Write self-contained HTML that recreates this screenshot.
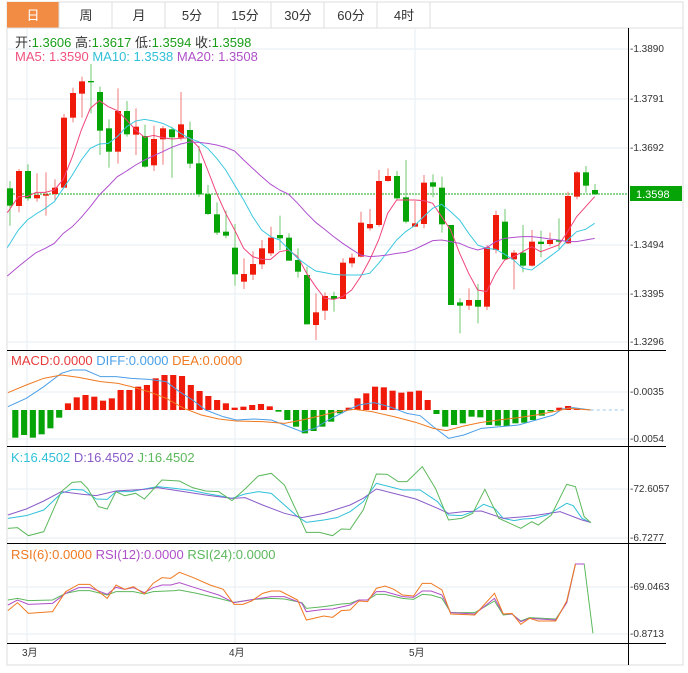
<!DOCTYPE html>
<html><head><meta charset="utf-8"><style>
body{margin:0;background:#fff;width:688px;height:673px;overflow:hidden;font-family:"Liberation Sans","Noto Sans CJK SC",sans-serif}
svg{position:absolute;left:0;top:0}
</style></head><body>
<svg width="688" height="673" xmlns="http://www.w3.org/2000/svg" font-family="Liberation Sans, Noto Sans CJK SC, sans-serif">
<rect x="7" y="2" width="676" height="26" fill="#fff" stroke="#dcdcdc"/>
<rect x="7" y="2" width="52" height="26" fill="#f28c45"/>
<g stroke="#dcdcdc"><line x1="59" y1="2" x2="59" y2="28"/><line x1="112" y1="2" x2="112" y2="28"/><line x1="165" y1="2" x2="165" y2="28"/><line x1="218" y1="2" x2="218" y2="28"/><line x1="271" y1="2" x2="271" y2="28"/><line x1="324" y1="2" x2="324" y2="28"/><line x1="377" y1="2" x2="377" y2="28"/><line x1="430" y1="2" x2="430" y2="28"/></g>
<g font-size="13" text-anchor="middle" fill="#333"><text x="33" y="20" fill="#fff">日</text><text x="86" y="20">周</text><text x="139" y="20">月</text><text x="192" y="20">5分</text><text x="245" y="20">15分</text><text x="298" y="20">30分</text><text x="351" y="20">60分</text><text x="404" y="20">4时</text></g>
<rect x="7" y="28" width="676" height="637" fill="none" stroke="#dcdcdc"/>
<g stroke="#e6edf2" stroke-width="1">
<line x1="7" y1="49" x2="628" y2="49"/><line x1="7" y1="99" x2="628" y2="99"/><line x1="7" y1="148" x2="628" y2="148"/><line x1="7" y1="245" x2="628" y2="245"/><line x1="7" y1="294" x2="628" y2="294"/><line x1="7" y1="342" x2="628" y2="342"/>
<line x1="7" y1="392" x2="628" y2="392"/><line x1="7" y1="439" x2="628" y2="439"/>
<line x1="7" y1="489" x2="628" y2="489"/><line x1="7" y1="538" x2="628" y2="538"/>
<line x1="7" y1="587" x2="628" y2="587"/><line x1="7" y1="634" x2="628" y2="634"/>
<line x1="27" y1="28" x2="27" y2="643"/><line x1="235" y1="28" x2="235" y2="643"/><line x1="415" y1="28" x2="415" y2="643"/>
</g>
<g stroke="#000" stroke-width="1">
<line x1="7" y1="350.5" x2="666" y2="350.5"/><line x1="7" y1="446.5" x2="666" y2="446.5"/><line x1="7" y1="543.5" x2="666" y2="543.5"/><line x1="7" y1="643.5" x2="666" y2="643.5"/>
<line x1="628.5" y1="28" x2="628.5" y2="665"/>
</g>
<g font-size="10" fill="#333">
<text x="630" y="52">-1.3890</text><text x="630" y="102">-1.3791</text><text x="630" y="151">-1.3692</text><text x="630" y="248">-1.3494</text><text x="630" y="297">-1.3395</text><text x="630" y="345">-1.3296</text>
<text x="630" y="395">-0.0035</text><text x="630" y="442">-0.0054</text>
<text x="630" y="492">-72.6057</text><text x="630" y="541">-6.7277</text>
<text x="630" y="590">-69.0463</text><text x="630" y="637">-0.8713</text>
<text x="22" y="656">3月</text><text x="229" y="656">4月</text><text x="409" y="656">5月</text>
</g>
<line x1="7" y1="194" x2="628" y2="194" stroke="#1aa81a" stroke-dasharray="2,1"/>
<rect x="630" y="186" width="52" height="15" fill="#06a406"/>
<text x="636" y="198" font-size="11" fill="#fff">1.3598</text>
<text x="15" y="47" font-size="13" fill="#333">开:<tspan fill="#1a9e1a">1.3606</tspan>  高:<tspan fill="#1a9e1a">1.3617</tspan>  低:<tspan fill="#1a9e1a">1.3594</tspan>  收:<tspan fill="#1a9e1a">1.3598</tspan></text>
<text x="15" y="61" font-size="13"><tspan fill="#f0527e">MA5: 1.3590</tspan>  <tspan fill="#30c0d8">MA10: 1.3538</tspan>  <tspan fill="#b050c8">MA20: 1.3508</tspan></text>
<text x="11" y="365" font-size="13"><tspan fill="#e83a3a">MACD:0.0000</tspan>  <tspan fill="#4aa0e8">DIFF:0.0000</tspan>  <tspan fill="#f07a22">DEA:0.0000</tspan></text>
<text x="11" y="462" font-size="13"><tspan fill="#30c0d8">K:16.4502</tspan>  <tspan fill="#8a5cc8">D:16.4502</tspan>  <tspan fill="#5cb85c">J:16.4502</tspan></text>
<text x="11" y="559" font-size="13"><tspan fill="#f07a22">RSI(6):0.0000</tspan>  <tspan fill="#b050c8">RSI(12):0.0000</tspan>  <tspan fill="#5cb85c">RSI(24):0.0000</tspan></text>
<g id="main" transform="translate(0,60) scale(0.33333)"></g>
<g id="low" transform="translate(0,345) scale(0.4376,0.33333)"></g>
<g id="rsi" transform="translate(0,540) scale(0.4376,0.33333)"></g>
</svg>
<script>
var NS="http://www.w3.org/2000/svg";
function el(p,t,a){var e=document.createElementNS(NS,t);for(var k in a)e.setAttribute(k,a[k]);p.appendChild(e);return e;}
var main=document.getElementById('main'),low=document.getElementById('low'),rsi=document.getElementById('rsi');
var C=[["G",385,437,363,497],["R",333,438,327,457],["G",333,415,313,422],["R",405,415,340,425],["R",403,407,337,467],["R",383,402,358,420],["R",173,383,162,383],["R",99,173,83,187],["R",64,101,50,173],["G",63,67,12,160],["G",96,212,80,285],["G",205,275,178,323],["R",153,275,85,311],["G",153,223,123,230],["R",200,224,145,285],["G",228,320,194,323],["R",237,316,197,333],["R",205,238,198,314],["G",208,232,200,353],["R",193,233,96,242],["G",210,311,185,325],["G",310,403,258,410],["G",403,462,375,465],["G",463,518,427,525],["G",515,527,452,535],["G",563,643,492,677],["R",642,665,595,687],["R",612,644,574,660],["R",565,613,540,627],["R",533,580,500,588],["G",525,535,467,570],["G",533,602,520,602],["G",600,635,565,653],["G",645,793,620,793],["R",757,795,700,840],["R",708,752,697,780],["G",708,717,695,755],["R",608,717,595,717],["R",593,610,580,622],["R",488,590,455,592],["R",492,505,447,512],["R",363,495,330,500],["R",348,363,325,365],["G",348,415,333,420],["G",412,485,300,490],["R",490,500,423,500],["R",368,492,345,505],["G",367,380,343,412],["G",383,493,350,518],["G",495,735,495,735],["G",727,737,715,820],["R",720,737,685,750],["G",720,740,672,790],["R",562,740,555,750],["R",465,570,452,580],["G",485,598,447,600],["R",578,598,570,688],["G",578,617,495,637],["R",545,617,510,620],["G",545,552,512,592],["R",540,552,518,558],["G",540,545,475,568],["R",408,550,395,552],["R",337,410,333,418],["G",337,377,318,398],["G",390,403,372,405]];
var RED="#f01a0a",GRN="#06a406",WR="#f07a7a",WG="#6cc86c";
C.forEach(function(c,i){var x=30+i*27;var col=c[0]=="R"?RED:GRN;
el(main,"line",{x1:x,x2:x,y1:c[3],y2:c[4],stroke:c[0]=="R"?WR:WG,"stroke-width":3});
el(main,"rect",{x:x-9,y:c[1],width:18,height:Math.max(c[2]-c[1],4),fill:col});});
function pl(g,pts,col,w){el(g,"polyline",{points:pts.map(function(p){return p.join(",")}).join(" "),fill:"none",stroke:col,"stroke-width":w||1,"vector-effect":"non-scaling-stroke"});}
pl(main,[[22,458],[55,410],[82,410],[108,397],[136,397],[163,390],[190,358],[217,290],[244,210],[271,145],[298,122],[325,140],[352,152],[380,180],[407,210],[434,232],[461,226],[488,233],[515,237],[542,235],[568,233],[596,262],[623,330],[650,400],[677,460],[704,510],[731,565],[758,590],[785,598],[812,598],[839,575],[866,570],[893,590],[920,640],[947,680],[974,715],[1001,718],[1028,710],[1055,690],[1082,650],[1109,600],[1136,540],[1163,460],[1190,420],[1217,420],[1244,420],[1271,422],[1298,430],[1325,470],[1352,510],[1379,580],[1406,640],[1433,690],[1460,695],[1487,640],[1514,600],[1541,590],[1568,575],[1595,560],[1622,575],[1649,565],[1676,555],[1703,515],[1730,470],[1757,440],[1784,410]],"#f0447a");
pl(main,[[22,563],[55,510],[82,480],[108,462],[136,445],[163,425],[190,385],[217,345],[244,300],[271,265],[298,252],[325,250],[352,230],[380,200],[407,183],[434,178],[461,183],[488,190],[515,203],[542,220],[568,235],[596,245],[623,265],[650,295],[677,330],[704,375],[731,420],[758,470],[785,510],[812,530],[839,540],[866,568],[893,595],[920,615],[947,633],[974,638],[1001,643],[1028,645],[1082,645],[1109,640],[1136,610],[1163,575],[1190,540],[1217,515],[1244,497],[1271,470],[1298,445],[1325,433],[1352,455],[1379,480],[1406,520],[1433,555],[1460,565],[1487,568],[1514,583],[1541,600],[1568,625],[1595,630],[1622,610],[1649,590],[1676,570],[1703,540],[1730,515],[1757,508],[1784,490]],"#3cc8e0");
pl(main,[[22,648],[55,620],[82,598],[108,578],[136,565],[163,550],[190,520],[217,500],[244,472],[271,440],[298,405],[325,378],[352,350],[380,333],[407,315],[434,300],[461,287],[488,275],[515,262],[542,252],[568,246],[596,247],[623,250],[650,255],[677,262],[704,273],[731,300],[758,325],[785,350],[812,373],[839,390],[866,403],[893,430],[920,460],[947,487],[974,508],[1001,530],[1028,550],[1055,568],[1082,585],[1109,590],[1136,588],[1163,585],[1190,580],[1217,577],[1244,568],[1271,555],[1298,542],[1325,540],[1352,545],[1379,550],[1406,562],[1433,570],[1460,563],[1487,545],[1514,535],[1541,532],[1568,530],[1595,530],[1622,533],[1649,537],[1676,540],[1703,545],[1730,545],[1757,540],[1784,535]],"#b04fcf");
var M=[278,270,278,268,250,218,175,157,150,155,167,160,135,135,125,120,100,90,90,93,120,138,153,165,175,188,185,180,177,184,200,225,245,265,258,245,230,205,188,160,145,125,127,137,143,140,137,165,207,245,240,235,215,217,240,242,243,235,233,225,212,199,188,183,190,193];
M.forEach(function(v,i){var x=35+i*20.05;var y1=Math.min(v,195),h=Math.abs(v-195);
el(low,"rect",{x:x-7,y:y1,width:14,height:Math.max(h,2),fill:v>195?GRN:RED});});
el(low,"line",{x1:1350,x2:1425,y1:195,y2:195,stroke:"#9cc8e8","stroke-dasharray":"3,3","vector-effect":"non-scaling-stroke"});
pl(low,[[18,185],[60,160],[100,125],[140,85],[165,75],[195,75],[230,95],[265,95],[300,100],[340,103],[380,110],[410,140],[440,165],[470,195],[510,215],[540,225],[580,222],[620,225],[650,240],[690,260],[720,250],[750,225],[790,198],[820,180],[855,173],[890,185],[930,205],[960,212],[990,245],[1025,280],[1060,270],[1100,250],[1145,245],[1185,240],[1225,225],[1265,210],[1285,192],[1310,188],[1350,195]],"#4a9ee8");
pl(low,[[18,143],[60,120],[100,100],[140,90],[180,97],[230,110],[270,115],[300,125],[340,140],[380,160],[420,190],[460,210],[500,222],[540,228],[600,230],[650,235],[690,225],[730,213],[770,200],[810,193],[850,200],[900,215],[950,232],[990,250],[1020,257],[1060,243],[1100,232],[1140,225],[1185,218],[1225,210],[1265,200],[1300,190],[1350,195]],"#f07a22");
pl(low,[[18,520],[60,512],[100,495],[140,445],[165,433],[190,435],[220,462],[245,463],[265,440],[300,440],[330,432],[360,425],[400,430],[440,437],[470,445],[500,452],[530,460],[560,447],[590,440],[620,445],[650,480],[680,515],[700,532],[740,525],[770,518],[800,500],[830,470],[860,415],[890,425],[920,435],[960,435],[1000,470],[1025,510],[1055,512],[1080,500],[1105,478],[1130,490],[1150,520],[1175,527],[1195,522],[1220,520],[1250,510],[1270,495],[1295,475],[1310,482],[1330,520],[1350,533]],"#30c0d8");
pl(low,[[18,510],[60,492],[100,468],[140,440],[190,448],[220,452],[265,438],[330,433],[360,428],[420,440],[470,450],[530,460],[560,458],[600,480],[650,505],[690,518],[740,505],[800,480],[830,460],[860,432],[900,445],[950,462],[1000,490],[1025,505],[1060,500],[1100,498],[1150,520],[1200,515],[1230,510],[1280,500],[1330,525],[1350,532]],"#8a5cc8");
pl(low,[[18,550],[40,548],[65,572],[100,560],[140,440],[165,412],[185,410],[200,430],[225,485],[245,492],[265,440],[285,452],[310,445],[330,462],[370,405],[410,408],[440,428],[470,438],[500,440],[530,467],[560,432],[590,393],[620,385],[650,420],[680,505],[700,562],[730,562],[760,572],[780,552],[800,553],[830,495],[860,387],[885,388],[910,410],[930,410],[965,365],[995,430],[1025,525],[1055,520],[1080,505],[1108,433],[1140,520],[1190,550],[1215,530],[1230,540],[1260,510],[1295,418],[1315,425],[1335,515],[1350,533]],"#5cb85c");
pl(rsi,[[18,180],[40,175],[65,182],[120,180],[150,160],[180,152],[205,152],[245,165],[265,155],[305,155],[330,162],[350,155],[400,152],[410,150],[450,160],[500,175],[535,187],[580,178],[620,175],[650,177],[690,188],[700,205],[740,200],[780,192],[800,190],[820,180],[840,180],[860,163],[880,163],[920,175],[945,178],[965,163],[985,165],[1010,175],[1030,218],[1085,218],[1130,183],[1150,225],[1170,222],[1190,243],[1210,233],[1270,237],[1295,188],[1315,72],[1335,72],[1355,280]],"#5cb85c");
pl(rsi,[[18,195],[40,180],[65,193],[120,190],[150,160],[180,143],[205,143],[245,163],[265,142],[285,148],[305,143],[330,158],[350,143],[370,135],[390,135],[410,128],[450,145],[500,165],[535,188],[580,178],[620,170],[650,170],[690,190],[700,215],[740,208],[760,207],[800,195],[820,180],[840,180],[860,155],[880,155],[920,170],[945,172],[965,153],[985,153],[1010,165],[1030,218],[1085,222],[1130,175],[1150,222],[1170,222],[1190,245],[1210,235],[1270,240],[1295,188],[1315,72],[1335,72]],"#b050c8");
pl(rsi,[[18,212],[40,188],[65,220],[120,215],[150,155],[180,133],[205,133],[245,175],[265,135],[285,148],[305,140],[330,162],[350,130],[370,113],[390,115],[410,97],[440,112],[480,135],[510,148],[535,193],[555,193],[575,183],[600,160],[620,153],[640,153],[680,180],[700,240],[740,228],[760,232],[780,212],[800,210],[820,183],[840,185],[860,145],[880,138],[900,148],[920,165],[945,168],[965,130],[985,130],[1010,150],[1030,222],[1085,225],[1130,160],[1150,222],[1170,220],[1190,253],[1210,235],[1230,243],[1270,243],[1295,183],[1315,72]],"#f07a22");
</script>
</body></html>
